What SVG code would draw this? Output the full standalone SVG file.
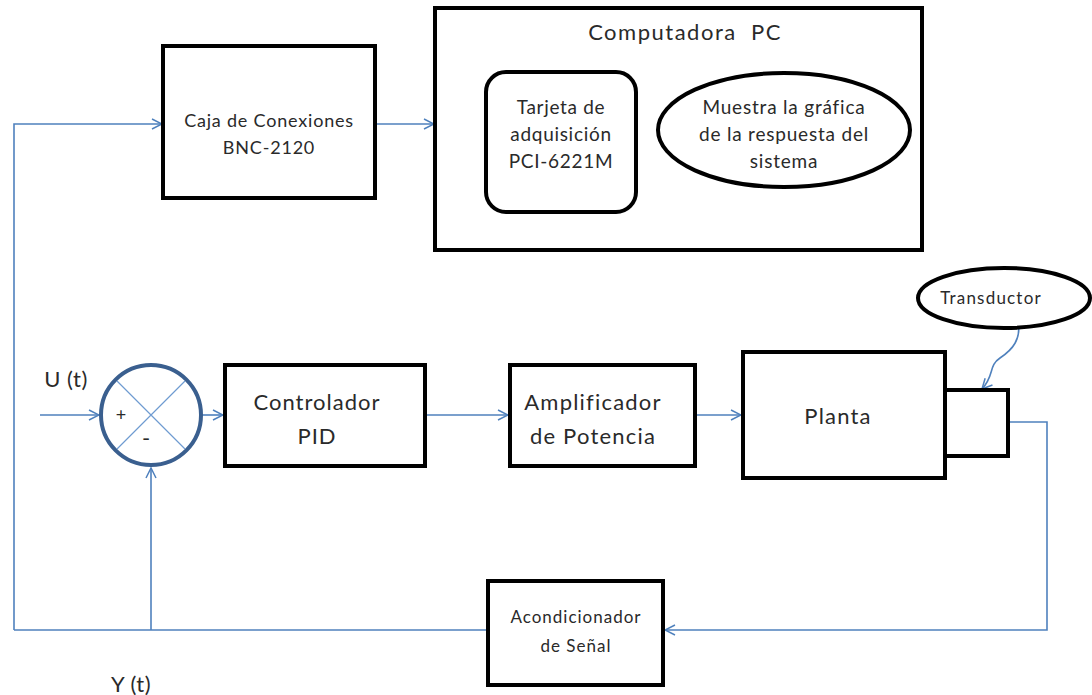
<svg xmlns="http://www.w3.org/2000/svg" width="1092" height="695" viewBox="0 0 1092 695">
<defs>
<marker id="arr" viewBox="0 0 12 12" refX="11" refY="6" markerWidth="12" markerHeight="12" markerUnits="userSpaceOnUse" orient="auto">
<path d="M1,1 L11,6 L1,11" fill="none" stroke="#4f81bd" stroke-width="1.5"/>
</marker>
</defs>
<style>
.box{fill:#fff;stroke:#000;stroke-width:4}
.t{font-family:Lato,"Open Sans",sans-serif;fill:#2a2a2a;text-anchor:middle}
.c{fill:none;stroke:#4f81bd;stroke-width:1.6}
</style>
<rect width="1092" height="695" fill="#fff"/>
<g id="connectors">
<path class="c" d="M14,630 L14,124 L162,124" marker-end="url(#arr)"/>
<path class="c" d="M375,124 L434,124" marker-end="url(#arr)"/>
<path class="c" d="M40,415 L99,415" marker-end="url(#arr)"/>
<path class="c" d="M202,415 L223,415" marker-end="url(#arr)"/>
<path class="c" d="M425,415 L508,415" marker-end="url(#arr)"/>
<path class="c" d="M695,415 L741,415" marker-end="url(#arr)"/>
<path class="c" d="M1008,422 L1047,422 L1047,630 L665,630" marker-end="url(#arr)"/>
<path class="c" d="M487,630 L14,630"/>
<path class="c" d="M151,630 L151,468" marker-end="url(#arr)"/>
<path class="c" d="M1018,318 C1022,340 1012,350 1000,358 C988,366 995,375 982,389" marker-end="url(#arr)"/>
</g>
<g id="caja">
<rect class="box" x="163" y="46" width="212" height="152"/>
<text class="t" x="269" y="127" font-size="18" letter-spacing="0.8">Caja de Conexiones</text>
<text class="t" x="269" y="154" font-size="18" letter-spacing="0.8">BNC-2120</text>
</g>
<g id="computadora">
<rect class="box" x="435" y="8" width="487" height="242"/>
<text class="t" x="685" y="40" font-size="22" letter-spacing="1.5">Computadora&#160; PC</text>
</g>
<g id="tarjeta">
<rect class="box" x="486" y="72" width="150" height="140" rx="20"/>
<text class="t" x="561" y="114" font-size="19" letter-spacing="0.7">Tarjeta de</text>
<text class="t" x="561" y="141" font-size="19" letter-spacing="0.7">adquisición</text>
<text class="t" x="561" y="168" font-size="19" letter-spacing="0.7">PCI-6221M</text>
</g>
<g id="muestra">
<ellipse class="box" cx="784" cy="130" rx="126" ry="57"/>
<text class="t" x="784" y="114" font-size="19" letter-spacing="0.8">Muestra la gráfica</text>
<text class="t" x="784" y="141" font-size="19" letter-spacing="0.8">de la respuesta del</text>
<text class="t" x="784" y="168" font-size="19" letter-spacing="0.8">sistema</text>
</g>
<g id="sumador">
<circle cx="151" cy="415" r="50" fill="#fff" stroke="#3a5f8f" stroke-width="4"/>
<path d="M117,381 L185,449 M185,381 L117,449" stroke="#6f9bd1" stroke-width="1.2" fill="none"/>
<text class="t" x="121" y="421" font-size="18">+</text>
<text class="t" x="146" y="446" font-size="22">-</text>
</g>
<g id="u">
<text class="t" x="66" y="387" font-size="22" letter-spacing="0.5">U (t)</text>
</g>
<g id="controlador">
<rect class="box" x="225" y="365" width="200" height="101"/>
<text class="t" x="317" y="410" font-size="22" letter-spacing="1">Controlador</text>
<text class="t" x="317" y="444" font-size="22" letter-spacing="1">PID</text>
</g>
<g id="amplificador">
<rect class="box" x="510" y="365" width="185" height="101"/>
<text class="t" x="593" y="410" font-size="22" letter-spacing="1.2">Amplificador</text>
<text class="t" x="593" y="444" font-size="22" letter-spacing="1.2">de Potencia</text>
</g>
<g id="planta">
<rect class="box" x="743" y="352" width="202" height="126"/>
<rect class="box" x="945" y="390" width="63" height="66"/>
<text class="t" x="838" y="424" font-size="22" letter-spacing="1.2">Planta</text>
</g>
<g id="transductor">
<ellipse class="box" cx="1004" cy="298" rx="86" ry="30"/>
<text class="t" x="991" y="304" font-size="17" letter-spacing="1.2">Transductor</text>
</g>
<g id="acondicionador">
<rect class="box" x="488" y="581" width="175" height="104"/>
<text class="t" x="576" y="623" font-size="17" letter-spacing="1">Acondicionador</text>
<text class="t" x="576" y="652" font-size="17" letter-spacing="1">de Señal</text>
</g>
<g id="y">
<text class="t" x="131" y="692" font-size="22" letter-spacing="0.5">Y (t)</text>
</g>
</svg>
